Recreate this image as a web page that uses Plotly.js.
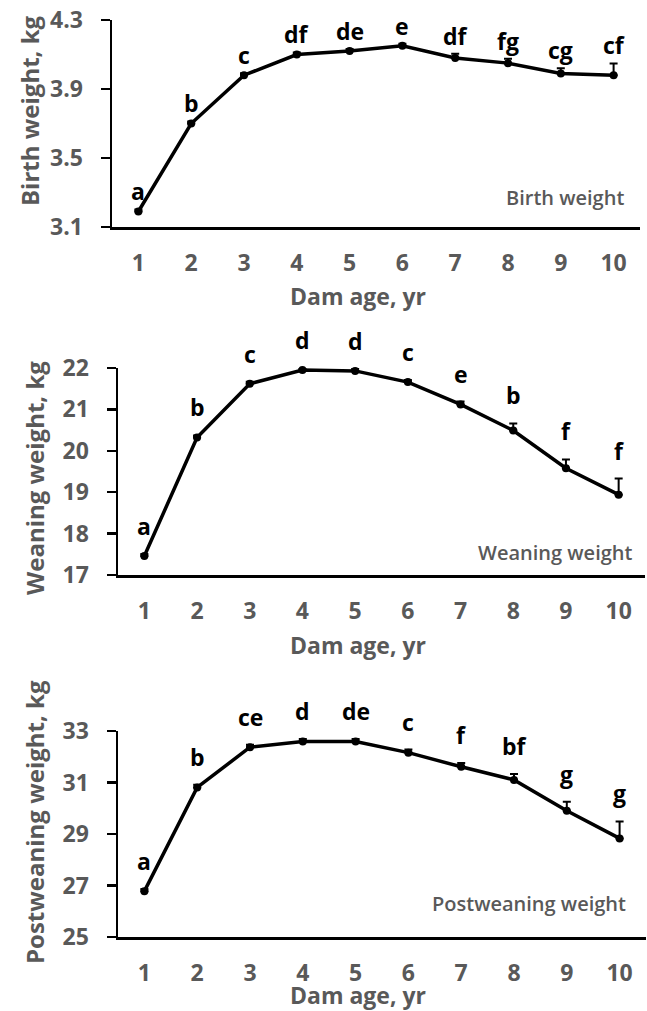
<!DOCTYPE html>
<html>
<head>
<meta charset="utf-8">
<script src="https://cdn.plot.ly/plotly-3.0.1.min.js"></script>
<style>html,body{margin:0;padding:0;background:#fff;}#chart{width:647px;height:1011px;}</style>
</head>
<body>
<div id="chart"></div>
<script>
// ---- data ----
var damAge = [1, 2, 3, 4, 5, 6, 7, 8, 9, 10];
var xTickLabels = ['1', '2', '3', '4', '5', '6', '7', '8', '9', '10'];

var birthWeight = [3.19, 3.70, 3.98, 4.10, 4.12, 4.15, 4.08, 4.05, 3.99, 3.98];
var birthSE = [0.012, 0.012, 0.012, 0.012, 0.012, 0.012, 0.025, 0.025, 0.03, 0.068];
var birthLetters = ['a', 'b', 'c', 'df', 'de', 'e', 'df', 'fg', 'cg', 'cf'];
var birthTicks = [3.1, 3.5, 3.9, 4.3];

var weanWeight = [17.46, 20.32, 21.62, 21.95, 21.93, 21.66, 21.12, 20.49, 19.58, 18.94];
var weanSE = [0.05, 0.05, 0.05, 0.05, 0.05, 0.05, 0.07, 0.17, 0.21, 0.39];
var weanLetters = ['a', 'b', 'c', 'd', 'd', 'c', 'e', 'b', 'f', 'f'];
var weanTicks = [17, 18, 19, 20, 21, 22];

var postWeight = [26.78, 30.81, 32.37, 32.59, 32.59, 32.16, 31.61, 31.10, 29.90, 28.83];
var postSE = [0.08, 0.10, 0.10, 0.10, 0.10, 0.12, 0.15, 0.23, 0.35, 0.66];
var postLetters = ['a', 'b', 'ce', 'd', 'de', 'c', 'f', 'bf', 'g', 'g'];
var postTicks = [25, 27, 29, 31, 33];

var panels = [
  {y: birthWeight, se: birthSE, letters: birthLetters, ticks: birthTicks, ytitle: 'Birth weight, kg', inset: 'Birth weight',
   px: [112, 640], py: [20, 227], shift: 18, ytx: 29, yty: 111, xty: 296, insetX: 626, insetY: 197},
  {y: weanWeight, se: weanSE, letters: weanLetters, ticks: weanTicks, ytitle: 'Weaning weight, kg', inset: 'Weaning weight',
   px: [118, 645], py: [368, 575], shift: 28, ytx: 35, yty: 478, xty: 645, insetX: 634, insetY: 552},
  {y: postWeight, se: postSE, letters: postLetters, ticks: postTicks, ytitle: 'Postweaning weight, kg', inset: 'Postweaning weight',
   px: [118, 646], py: [731, 937], shift: 28, ytx: 34, yty: 822, xty: 995, insetX: 628, insetY: 903}
];

var W = 647, H = 1011;
function fx(p) { return p / W; }
function fy(p) { return 1 - p / H; }

var FONT = 'Open Sans, sans-serif';
var GRAY = '#595959';
var traces = [];
var annotations = [];
var layout = {
  width: W, height: H,
  margin: {l: 0, r: 0, t: 0, b: 0},
  paper_bgcolor: '#ffffff', plot_bgcolor: '#ffffff',
  showlegend: false,
  font: {family: FONT, color: GRAY},
  annotations: annotations
};

panels.forEach(function (p, i) {
  var n = i + 1;
  var xa = 'xaxis' + (n === 1 ? '' : n), ya = 'yaxis' + (n === 1 ? '' : n);
  var xr = 'x' + (n === 1 ? '' : n), yr = 'y' + (n === 1 ? '' : n);
  traces.push({
    type: 'scatter', mode: 'lines+markers',
    x: damAge, y: p.y, xaxis: xr, yaxis: yr,
    line: {color: '#000000', width: 3.5},
    marker: {color: '#000000', size: 8},
    error_y: {type: 'data', array: p.se, arrayminus: p.se.map(function () { return 0; }), symmetric: false,
              color: '#000000', thickness: 2, width: 4},
    cliponaxis: false, hoverinfo: 'x+y'
  });
  layout[xa] = {
    domain: [fx(p.px[0]), fx(p.px[1])],
    anchor: yr,
    range: [0.5, 10.5],
    tickmode: 'array', tickvals: damAge, ticktext: xTickLabels,
    ticks: '', showgrid: false, zeroline: false,
    showline: true, linecolor: '#000000', linewidth: 3,
    ticklabelstandoff: 13,
    tickfont: {family: FONT, size: 23, color: GRAY, weight: 'bold'}
  };
  layout[ya] = {
    domain: [fy(p.py[1]), fy(p.py[0])],
    anchor: xr,
    range: [p.ticks[0], p.ticks[p.ticks.length - 1]],
    tickmode: 'array', tickvals: p.ticks,
    ticks: 'outside', ticklen: 9, tickwidth: 2.5, tickcolor: '#000000',
    showgrid: false, zeroline: false,
    showline: true, linecolor: '#000000', linewidth: 2.5,
    ticklabelstandoff: 13,
    tickfont: {family: FONT, size: 23, color: GRAY, weight: 'bold'}
  };
  // significance letters above each error bar
  p.letters.forEach(function (t, k) {
    annotations.push({
      xref: xr, yref: yr, x: damAge[k], y: p.y[k] + p.se[k],
      text: t, showarrow: false, yanchor: 'middle', xanchor: 'center', yshift: p.shift,
      font: {family: FONT, size: 23, color: '#000000', weight: 'bold'}
    });
  });
  // inset label
  annotations.push({
    xref: 'paper', yref: 'paper', x: fx(p.insetX), y: fy(p.insetY),
    text: p.inset, showarrow: false, xanchor: 'right', yanchor: 'middle',
    font: {family: FONT, size: 20, color: GRAY, weight: 600}
  });
  // y axis title
  annotations.push({
    xref: 'paper', yref: 'paper', x: fx(p.ytx), y: fy(p.yty),
    text: p.ytitle, showarrow: false, textangle: -90, xanchor: 'center', yanchor: 'middle',
    font: {family: FONT, size: 24, color: GRAY, weight: 'bold'}
  });
  // x axis title
  annotations.push({
    xref: 'paper', yref: 'paper', x: fx(358), y: fy(p.xty),
    text: 'Dam age, yr', showarrow: false, xanchor: 'center', yanchor: 'middle',
    font: {family: FONT, size: 23, color: GRAY, weight: 'bold'}
  });
});

Plotly.newPlot('chart', traces, layout, {staticPlot: true, displayModeBar: false});
</script>
</body>
</html>
